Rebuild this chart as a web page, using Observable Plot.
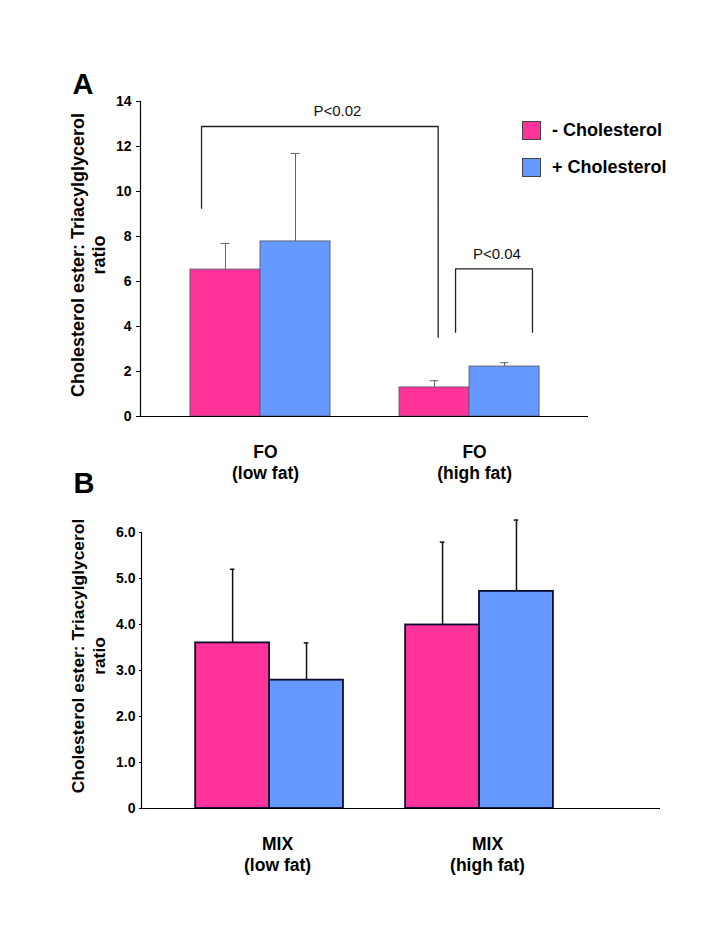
<!DOCTYPE html>
<html><head><meta charset="utf-8">
<script src="https://cdn.jsdelivr.net/npm/d3@7"></script>
<script src="https://cdn.jsdelivr.net/npm/@observablehq/plot@0.6"></script>
<style>
body{margin:0;background:#fff;font-family:"Liberation Sans",Arial,Helvetica,sans-serif;}
#wrap{position:relative;width:720px;height:938px;overflow:hidden;}
#a{position:absolute;left:0;top:0}
#b{position:absolute;left:0;top:480px}
.legend{position:absolute;left:522px;top:121px;font-weight:bold;font-size:18px;color:#000}
.item{display:flex;align-items:center;height:19px;margin-bottom:18px;white-space:nowrap}
.sw{width:19px;height:19px;box-sizing:border-box;border:1px solid #444;margin-right:11px}
svg{overflow:visible}
</style></head>
<body><div id="wrap"><div id="a"></div><div id="b"></div><div class="legend" id="legend"></div></div>
<script>
// ---- data ----
const series = ["- Cholesterol", "+ Cholesterol"];
const colors = ["#FF3399", "#6699FF"];

const groupsA = ["FO\n(low fat)", "FO\n(high fat)"];
const minusA = [6.53, 1.29];
const plusA = [7.78, 2.22];
const minusErrA = [1.16, 0.30];
const plusErrA = [3.91, 0.17];
const yTicksA = [0, 2, 4, 6, 8, 10, 12, 14];

const groupsB = ["MIX\n(low fat)", "MIX\n(high fat)"];
const minusB = [3.60, 3.99];
const plusB = [2.79, 4.72];
const minusErrB = [1.60, 1.80];
const plusErrB = [0.81, 1.55];
const yTicksB = [0, 1, 2, 3, 4, 5, 6];

const yTitle = "Cholesterol ester: Triacylglycerol\nratio";

// significance brackets (panel A), x in group-index units, y in data units
const bracketLabels = ["P<0.02", "P<0.04"];
const bracketLeft = [-0.282, 0.933];
const bracketRight = [0.850, 1.301];
const bracketTop = [12.89, 6.56];
const bracketLeftEnd = [9.26, 3.75];
const bracketRightEnd = [3.52, 3.75];
const bracketLabelX = [0.368, 1.131];

// ---- legend ----
document.getElementById("legend").innerHTML = series.map((s, i) =>
  `<div class="item"><div class="sw" style="background:${colors[i]}"></div><span>${s}</span></div>`).join("");

function rowsOf(groups, minus, plus, minusErr, plusErr) {
  return groups.flatMap((g, i) => [
    {g, i, s: 0, v: minus[i], e: minusErr[i]},
    {g, i, s: 1, v: plus[i], e: plusErr[i]}
  ]);
}

function panel({groups, rows, yTicks, yDomain, xDomain, height, mt, mb, ml, mr, w, cap,
                barStroke, barStrokeWidth, errStroke, errWidth, tickSize, tickPadding, fmt,
                letter, letterDy, titleDx, titleDy, titleSize, labelDx, extra}) {
  const x1 = d => d.s === 0 ? d.i - w : d.i;
  const x2 = d => d.s === 0 ? d.i : d.i + w;
  const cx = d => d.s === 0 ? d.i - w / 2 : d.i + w / 2;
  return Plot.plot({
    width: 720, height,
    marginTop: mt, marginBottom: mb, marginLeft: ml, marginRight: mr,
    style: {fontFamily: "'Liberation Sans', Arial, Helvetica, sans-serif", fontSize: "14px", background: "transparent", overflow: "visible"},
    x: {domain: xDomain, axis: null},
    y: {domain: yDomain},
    marks: [
      Plot.rect(rows, {x1, x2, y1: 0, y2: "v", fill: d => colors[d.s], stroke: barStroke, strokeWidth: barStrokeWidth}),
      Plot.ruleX(rows, {x: cx, y1: "v", y2: d => d.v + d.e, stroke: errStroke, strokeWidth: errWidth}),
      Plot.ruleY(rows, {y: d => d.v + d.e, x1: d => cx(d) - cap, x2: d => cx(d) + cap, stroke: errStroke, strokeWidth: errWidth}),
      ...(extra || []),
      Plot.ruleX([xDomain[0]], {stroke: "#000", strokeWidth: 1.2}),
      Plot.ruleY([0], {stroke: "#000", strokeWidth: 1.2}),
      Plot.axisY(yTicks, {tickSize, tickPadding, tickFormat: fmt, label: null, fontSize: 14, fontWeight: "bold", stroke: "#000"}),
      Plot.text(groups.map((g, i) => ({g, i})), {x: "i", y: () => 0, text: "g", lineAnchor: "top", dy: 27, dx: labelDx,
        fontSize: 17.5, fontWeight: "bold", lineHeight: 1.2, fill: "#000"}),
      Plot.text([yTitle], {frameAnchor: "left", rotate: -90, text: d => d, dx: titleDx, dy: titleDy,
        textAnchor: "middle", lineAnchor: "middle",
        fontSize: titleSize, fontWeight: "bold", lineHeight: 1.17, fill: "#000"}),
      Plot.text([letter], {frameAnchor: "top-left", text: d => d, textAnchor: "start", lineAnchor: "middle", dx: -68, dy: letterDy,
        fontSize: 29, fontWeight: "bold", fill: "#000"})
    ]
  });
}

// brackets for panel A
const bracketPts = bracketLabels.flatMap((lab, k) => [
  {k, x: bracketLeft[k], y: bracketLeftEnd[k]},
  {k, x: bracketLeft[k], y: bracketTop[k]},
  {k, x: bracketRight[k], y: bracketTop[k]},
  {k, x: bracketRight[k], y: bracketRightEnd[k]}
]);
const bracketMarks = [
  Plot.line(bracketPts, {x: "x", y: "y", z: "k", stroke: "#222", strokeWidth: 1.3}),
  Plot.text(bracketLabels.map((lab, k) => ({lab, x: bracketLabelX[k], y: bracketTop[k]})),
    {x: "x", y: "y", text: "lab", dy: -15, fontSize: 15, fill: "#111"})
];

document.getElementById("a").append(panel({
  groups: groupsA, rows: rowsOf(groupsA, minusA, plusA, minusErrA, plusErrA),
  yTicks: yTicksA, yDomain: [0, 14], xDomain: [-0.574, 1.569],
  height: 480, mt: 101, mb: 64, ml: 140, mr: 132, w: 0.335, cap: 0.021,
  barStroke: "#5a5a70", barStrokeWidth: 0.9, errStroke: "#666", errWidth: 1,
  tickSize: 4, tickPadding: 5, fmt: d => String(d),
  letter: "A", letterDy: -17, titleDx: -52.5, titleDy: -4, titleSize: 18, labelDx: 5, extra: bracketMarks
}));

document.getElementById("b").append(panel({
  groups: groupsB, rows: rowsOf(groupsB, minusB, plusB, minusErrB, plusErrB),
  yTicks: yTicksB, yDomain: [0, 6], xDomain: [-0.610, 1.862],
  height: 458, mt: 52, mb: 130, ml: 141, mr: 60, w: 0.352, cap: 0.011,
  barStroke: "#0a0a30", barStrokeWidth: 1.8, errStroke: "#111", errWidth: 1.5,
  tickSize: 2, tickPadding: 4, fmt: d => d === 0 ? "0" : d.toFixed(1),
  letter: "B", letterDy: -49, titleDx: -53.5, titleDy: -14.5, titleSize: 17.4, labelDx: 8
}));
</script>
</body></html>
